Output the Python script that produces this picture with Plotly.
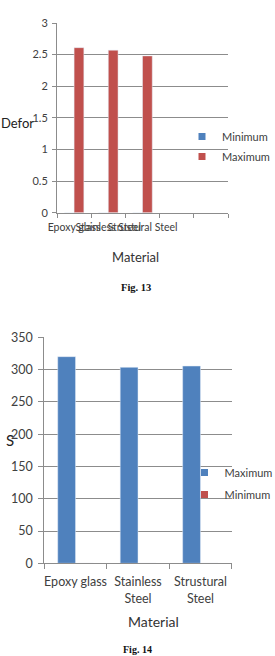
import plotly.graph_objects as go

W, H = 275, 656

# ---------------- data ----------------
# Fig. 13 : deformation
materials13 = ["Epoxy glass", "Stainless Steel", "Strustural Steel"]
empty_slots13 = [" ", "  "]
deform_min = [0, 0, 0]
deform_max = [2.61, 2.57, 2.48]
yticks13 = [0, 0.5, 1, 1.5, 2, 2.5, 3]

# Fig. 14 : stress
materials14 = ["Epoxy glass", "Stainless<br>Steel", "Strustural<br>Steel"]
stress_max = [320, 303.5, 305.5]
stress_min = [0, 0, 0]
yticks14 = [0, 50, 100, 150, 200, 250, 300, 350]

BLUE = "#4F81BD"
RED = "#C0504D"
GRID = "#8C8C8C"
TXT = "#404040"
FONT = "Lato, Open Sans, sans-serif"


def px_x(p):
    return p / W


def px_y(p):
    return 1 - p / H


fig = go.Figure()

# Fig 13 bars
fig.add_trace(go.Bar(x=materials13, y=deform_min, name="Minimum", marker_color=BLUE,
                     xaxis="x", yaxis="y", showlegend=False))
fig.add_trace(go.Bar(x=materials13, y=deform_max, name="Maximum", marker_color=RED,
                     xaxis="x", yaxis="y", showlegend=False))
# legend entries fig 13
fig.add_trace(go.Scatter(x=[None], y=[None], mode="markers", name="Minimum",
                         marker=dict(symbol="square", size=7, color=BLUE),
                         xaxis="x", yaxis="y", legend="legend", legendgroup="a"))
fig.add_trace(go.Scatter(x=[None], y=[None], mode="markers", name="Maximum",
                         marker=dict(symbol="square", size=7, color=RED),
                         xaxis="x", yaxis="y", legend="legend", legendgroup="b"))

# Fig 14 bars
fig.add_trace(go.Bar(x=materials14, y=stress_max, name="Maximum", marker_color=BLUE,
                     xaxis="x2", yaxis="y2", showlegend=False))
fig.add_trace(go.Bar(x=materials14, y=stress_min, name="Minimum", marker_color=RED,
                     xaxis="x2", yaxis="y2", showlegend=False))
fig.add_trace(go.Scatter(x=[None], y=[None], mode="markers", name="Maximum",
                         marker=dict(symbol="square", size=7, color=BLUE),
                         xaxis="x2", yaxis="y2", legend="legend2", legendgroup="c"))
fig.add_trace(go.Scatter(x=[None], y=[None], mode="markers", name="Minimum",
                         marker=dict(symbol="square", size=7, color=RED),
                         xaxis="x2", yaxis="y2", legend="legend2", legendgroup="d"))

axis_common = dict(showline=True, linecolor=GRID, linewidth=1, ticks="outside",
                   tickcolor=GRID, zeroline=False, fixedrange=True,
                   automargin=False)

fig.update_layout(
    width=W, height=H,
    margin=dict(l=0, r=0, t=0, b=0, autoexpand=False),
    paper_bgcolor="white", plot_bgcolor="white",
    barmode="group", bargap=0.43, bargroupgap=0,
    font=dict(family=FONT, color=TXT),
    xaxis=dict(domain=[px_x(57), px_x(228)], anchor="y", type="category",
               categoryorder="array", categoryarray=materials13 + empty_slots13,
               range=[-0.5, 4.5], tickson="boundaries", tickangle=0,
               ticklen=4, ticklabelstandoff=5,
               showgrid=False, tickfont=dict(size=10.5, color=TXT), **axis_common),
    yaxis=dict(domain=[px_y(212.7), px_y(23)], anchor="x", range=[0, 3],
               tickvals=yticks13, showgrid=True, gridcolor=GRID, gridwidth=1,
               ticklen=4, ticklabelstandoff=2,
               tickfont=dict(size=11, color=TXT), **axis_common),
    xaxis2=dict(domain=[px_x(44.3), px_x(231.7)], anchor="y2", type="category",
                categoryorder="array", categoryarray=materials14,
                range=[-0.5, 2.5], tickson="boundaries", tickangle=0,
                ticklen=5, ticklabelstandoff=7,
                showgrid=False, tickfont=dict(size=12.5, color=TXT), **axis_common),
    yaxis2=dict(domain=[px_y(563.3), px_y(337.3)], anchor="x2", range=[0, 350],
                tickvals=yticks14, showgrid=True, gridcolor=GRID, gridwidth=1,
                ticklen=5, ticklabelstandoff=3,
                tickfont=dict(size=12.5, color=TXT), **axis_common),
    legend=dict(x=px_x(182), y=px_y(122), xanchor="left", yanchor="top",
                bgcolor="rgba(0,0,0,0)", font=dict(size=11, color=TXT),
                tracegroupgap=1, itemwidth=30),
    legend2=dict(x=px_x(184.5), y=px_y(458), xanchor="left", yanchor="top",
                 bgcolor="rgba(0,0,0,0)", font=dict(size=11, color=TXT),
                 tracegroupgap=3, itemwidth=30),
)

annots = [
    dict(text="Defor", x=px_x(17), y=px_y(123), font=dict(size=13, color="#222")),
    dict(text="Material", x=px_x(135), y=px_y(257), font=dict(size=13, color="#333")),
    dict(text="<b>Fig. 13</b>", x=px_x(136), y=px_y(288),
         font=dict(size=10.5, color="#111", family="Liberation Serif, serif")),
    dict(text="S", x=px_x(10), y=px_y(440), font=dict(size=15, color="#222")),
    dict(text="Material", x=px_x(153), y=px_y(621), font=dict(size=14, color="#333")),
    dict(text="<b>Fig. 14</b>", x=px_x(137), y=px_y(649.5),
         font=dict(size=10, color="#111", family="Liberation Serif, serif")),
]
for a in annots:
    fig.add_annotation(xref="paper", yref="paper", showarrow=False,
                       xanchor="center", yanchor="middle", **a)

fig.write_html("out.html")
